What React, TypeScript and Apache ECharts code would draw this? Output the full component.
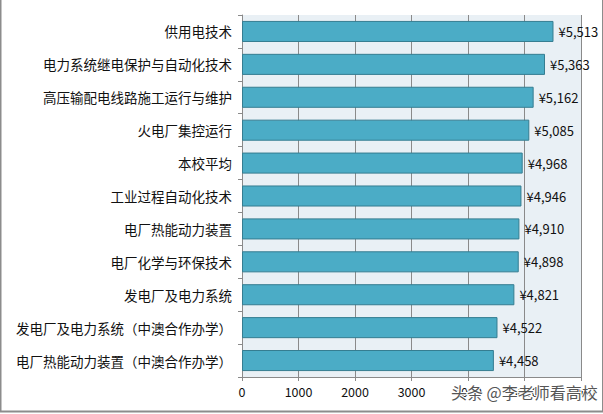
import React, { useEffect, useRef } from "react";
import * as echarts from "echarts";

const categories = [
  "供用电技术",
  "电力系统继电保护与自动化技术",
  "高压输配电线路施工运行与维护",
  "火电厂集控运行",
  "本校平均",
  "工业过程自动化技术",
  "电厂热能动力装置",
  "电厂化学与环保技术",
  "发电厂及电力系统",
  "发电厂及电力系统（中澳合作办学）",
  "电厂热能动力装置（中澳合作办学）",
];
const salaries = [5513, 5363, 5162, 5085, 4968, 4946, 4910, 4898, 4821, 4522, 4458];
const axisTicks = [0, 1000, 2000, 3000, 4000, 5000, 6000];

export default function App() {
  const ref = useRef<HTMLDivElement>(null);
  useEffect(() => {
    document.body.style.margin = "0";
    const chart = echarts.init(ref.current!, null, { renderer: "svg" });
    const font = "'Noto Sans CJK SC', 'Noto Sans', sans-serif";
    chart.setOption({
      animation: false,
      backgroundColor: "#ffffff",
      grid: {
        left: 242,
        right: 22,
        top: 15,
        bottom: 37,
        containLabel: false,
        outerBoundsMode: "none",
        show: true,
        backgroundColor: "#e9f0f5",
        borderWidth: 0,
      },
      xAxis: {
        type: "value",
        min: axisTicks[0],
        max: axisTicks[axisTicks.length - 1],
        interval: 1000,
        axisLine: { show: true, lineStyle: { color: "#8a8a8a" } },
        axisTick: { show: true, length: 4, lineStyle: { color: "#8a8a8a" } },
        splitLine: { show: true, lineStyle: { color: "#8a8a8a", width: 1 } },
        axisLabel: {
          color: "#111",
          fontSize: 12.5,
          fontFamily: font,
          margin: 8,
          formatter: (v: number) => String(v),
        },
      },
      yAxis: {
        type: "category",
        inverse: true,
        data: categories,
        axisLine: { show: true, lineStyle: { color: "#8a8a8a" } },
        axisTick: { show: true, length: 4, alignWithLabel: false, lineStyle: { color: "#8a8a8a" } },
        axisLabel: { color: "#111", fontSize: 13.5, fontFamily: font, margin: 10 },
      },
      series: [
        {
          type: "bar",
          data: salaries,
          barCategoryGap: "36%",
          itemStyle: { color: "#4bacc6", borderColor: "#357d91", borderWidth: 1 },
          label: {
            show: true,
            position: "right",
            distance: 5,
            color: "#111",
            fontSize: 13,
            fontFamily: font,
            formatter: (p: any) => "¥" + Number(p.value).toLocaleString("en-US"),
          },
        },
      ],
      graphic: [
        { type: "line", shape: { x1: 0.5, y1: 0, x2: 0.5, y2: 411.5 }, style: { stroke: "#8c8c8c", lineWidth: 2 } },
        { type: "line", shape: { x1: 0, y1: 411.5, x2: 603, y2: 411.5 }, style: { stroke: "#8c8c8c", lineWidth: 2 } },
        { type: "line", shape: { x1: 602.5, y1: 0, x2: 602.5, y2: 411.5 }, style: { stroke: "#8c8c8c", lineWidth: 1 } },
        {
          type: "text",
          left: 450,
          top: 383,
          z: 100,
          style: {
            text: "头条 @李老师看高校",
            fill: "#555555",
            stroke: "#ffffff",
            lineWidth: 2,
            fontSize: 16,
            fontFamily: font,
          },
        },
      ],
    });
    return () => chart.dispose();
  }, []);
  return <div ref={ref} style={{ width: 603, height: 414 }} />;
}
